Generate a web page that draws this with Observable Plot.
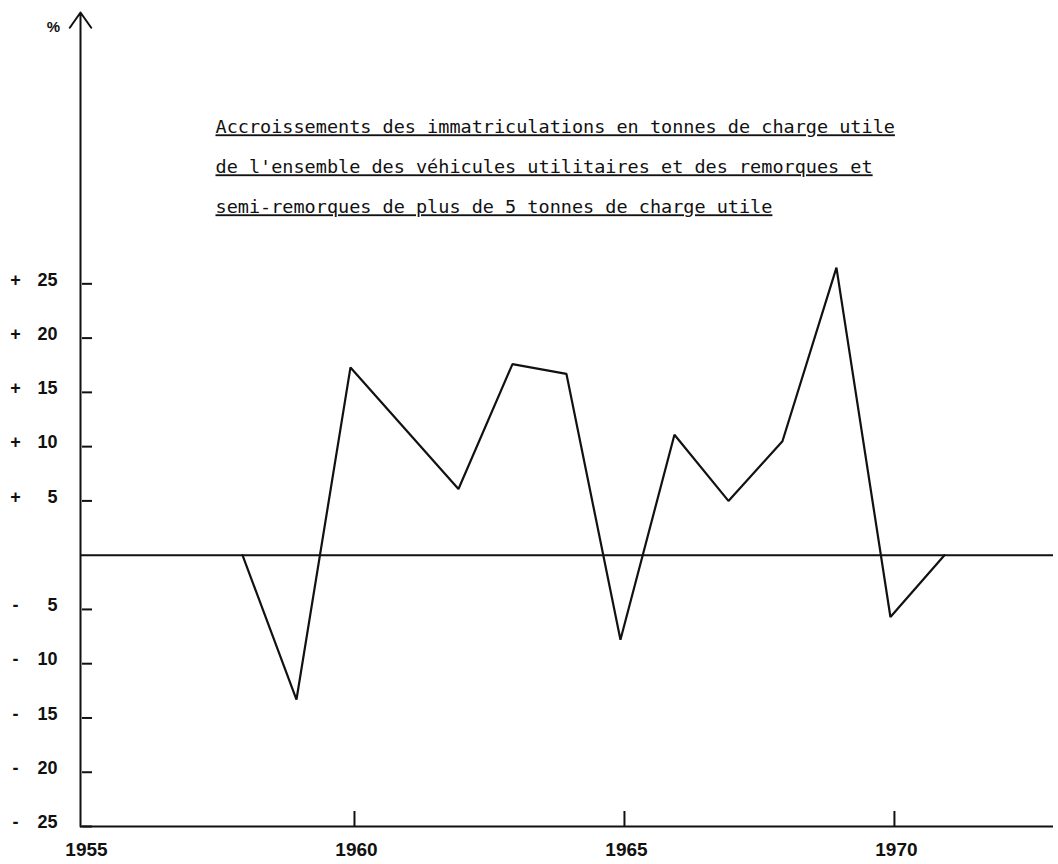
<!DOCTYPE html>
<html><head><meta charset="utf-8">
<script src="https://cdn.jsdelivr.net/npm/d3@7"></script>
<script src="https://cdn.jsdelivr.net/npm/@observablehq/plot@0.6"></script>
<style>
body{margin:0;background:#fff;}
#chart{width:1058px;height:864px;}
</style></head><body><div id="chart"></div>
<script>
// Data
const years  = [1958, 1959, 1960, 1962, 1963, 1964, 1965, 1966, 1967, 1968, 1969, 1970, 1971];
const values = [0, -13.3, 17.3, 6.1, 17.6, 16.7, -7.8, 11.1, 5.0, 10.5, 26.5, -5.7, 0];
const yTicks = [25, 20, 15, 10, 5, -5, -10, -15, -20, -25];
const xTickLabels = [1955, 1960, 1965, 1970];
const xTickMarks = [1960, 1965, 1970];
const titleLines = [
  "Accroissements des immatriculations en tonnes de charge utile",
  "de l'ensemble des véhicules utilitaires et des remorques et",
  "semi-remorques de plus de 5 tonnes de charge utile"
];
const unitLabel = "%";
const xDomain = [1955, 1973.02];
const yDomain = [-25, 50];

const series = years.map((year, i) => ({year, value: values[i]}));
const axisArrow = [{x1: xDomain[0], y1: yDomain[0], x2: xDomain[0], y2: yDomain[1]}];

const W = 1058, H = 864, mL = 80, mR = 5, mT = 12, mB = 38;
const ink = "#111";

const plot = Plot.plot({
  width: W, height: H,
  marginLeft: mL, marginRight: mR, marginTop: mT, marginBottom: mB,
  style: {background: "#fff", color: ink, fontFamily: "'Liberation Sans', Arial, sans-serif"},
  x: {domain: xDomain, axis: null},
  y: {domain: yDomain, axis: null},
  marks: [
    Plot.ruleY([yDomain[0]], {stroke: ink, strokeWidth: 2}),
    Plot.ruleY([0], {stroke: ink, strokeWidth: 2}),
    Plot.arrow(axisArrow, {x1: "x1", y1: "y1", x2: "x2", y2: "y2", stroke: ink, strokeWidth: 2, headLength: 14, headAngle: 70}),
    Plot.tickY(yTicks, {y: d => d, stroke: ink, strokeWidth: 2, insetLeft: 2, insetRight: W - mL - mR - 12}),
    Plot.tickX(xTickMarks, {x: d => d, dx: 4, stroke: ink, strokeWidth: 2, insetTop: H - mT - mB - 15}),
    Plot.text(yTicks, {y: d => d, text: d => String(Math.abs(d)), frameAnchor: "left", textAnchor: "end", dx: -23, dy: -4, fontSize: 18, fontWeight: "bold", fill: ink}),
    Plot.text(yTicks, {y: d => d, text: d => d > 0 ? "+" : "-", frameAnchor: "left", textAnchor: "middle", dx: -65, dy: -4, fontSize: 18, fontWeight: "bold", fill: ink}),
    Plot.text(xTickLabels, {x: d => d, text: d => String(d), frameAnchor: "bottom", dx: 6, dy: 29, fontSize: 19, fontWeight: "bold", fill: ink}),
    Plot.line(series, {x: "year", y: "value", stroke: ink, strokeWidth: 2.2, strokeLinejoin: "miter"}),
    Plot.text([unitLabel], {text: d => d, frameAnchor: "top-left", textAnchor: "middle", lineAnchor: "middle", dx: -27, dy: 15, fontSize: 15, fontWeight: "bold", fill: ink}),
    Plot.text([titleLines.join("\n")], {text: d => d, frameAnchor: "top-left", textAnchor: "start", lineAnchor: "middle",
      dx: 135, dy: 148, lineHeight: 40 / 18.5, fontSize: 18.5, fontFamily: "'DejaVu Sans Mono', monospace", fill: ink})
  ]
});
document.getElementById("chart").appendChild(plot);
d3.select(plot).selectAll("tspan").each(function () {
  const t = this.parentNode;
  t.setAttribute("text-decoration", "underline");
  t.style.textDecoration = "underline";
  t.style.textUnderlineOffset = "6px";
});
</script>
</body></html>
